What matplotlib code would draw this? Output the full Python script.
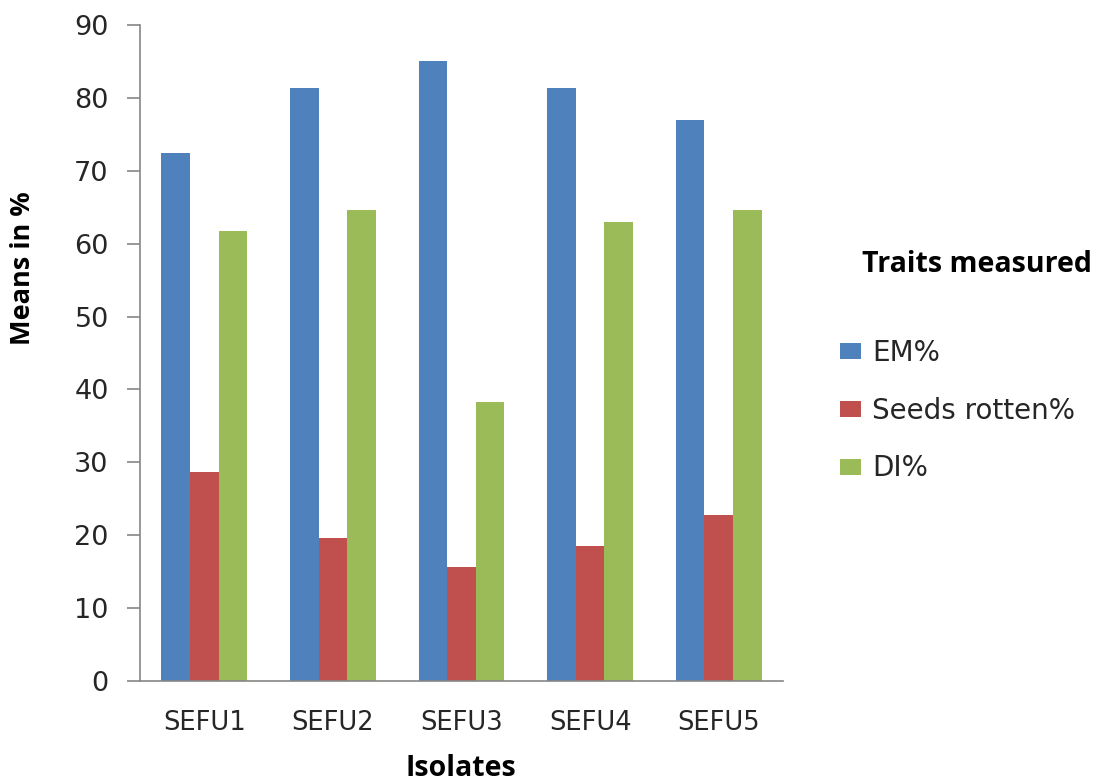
import matplotlib
matplotlib.use("Agg")
import matplotlib.pyplot as plt
import numpy as np

categories = ["SEFU1", "SEFU2", "SEFU3", "SEFU4", "SEFU5"]
series_names = ["EM%", "Seeds rotten%", "DI%"]
em = [72.5, 81.4, 85.1, 81.4, 77.0]
seeds_rotten = [28.7, 19.6, 15.6, 18.5, 22.8]
di = [61.7, 64.6, 38.3, 63.0, 64.6]
colors = ["#4F81BD", "#C0504D", "#9BBB59"]
yticks = [0, 10, 20, 30, 40, 50, 60, 70, 80, 90]

W, H = 1108, 782
fig = plt.figure(figsize=(W / 100, H / 100), dpi=100)
ax = fig.add_axes([140 / W, 1 - 681 / H, (783 - 140) / W, (681 - 25) / H])

x = np.arange(len(categories))
bw = 0.222
for i, (vals, name, c) in enumerate(zip([em, seeds_rotten, di], series_names, colors)):
    ax.bar(x + (i - 1) * bw, vals, width=bw, color=c, label=name, zorder=2)

ax.set_xlim(-0.5, len(categories) - 0.5)
ax.set_ylim(0, 90)
ax.set_yticks(yticks)
ax.set_xticks(x)
ax.set_xticklabels(categories)

gray = "#868686"
for s in ["top", "right"]:
    ax.spines[s].set_visible(False)
for s in ["left", "bottom"]:
    ax.spines[s].set_color(gray)
    ax.spines[s].set_linewidth(1.2)

ax.tick_params(axis="y", direction="out", length=9.5, width=1.2, color=gray,
               pad=13, labelsize=19.5, labelcolor="#262626")
ax.tick_params(axis="x", length=0, pad=21, labelsize=18.5, labelcolor="#262626")

fig.text(23 / W, 1 - 268 / H, "Means in %", rotation=90, ha="center", va="center",
         fontsize=19.5, fontweight="bold", family="Open Sans")
fig.text(461 / W, 1 - 768 / H, "Isolates", ha="center", va="center",
         fontsize=20.5, fontweight="bold", family="Open Sans")
fig.text(862 / W, 1 - 265 / H, "Traits measured", ha="left", va="center",
         fontsize=20.5, fontweight="bold", family="Open Sans")

leg = ax.legend(loc="upper left", bbox_to_anchor=(840 / W, 1 - 339 / H),
                bbox_transform=fig.transFigure, frameon=False, fontsize=20,
                borderpad=0, borderaxespad=0, labelspacing=1.07,
                handlelength=0.75, handleheight=0.5, handletextpad=0.4)
for t in leg.get_texts():
    t.set_color("#262626")

fig.savefig("out.png", dpi=100)
